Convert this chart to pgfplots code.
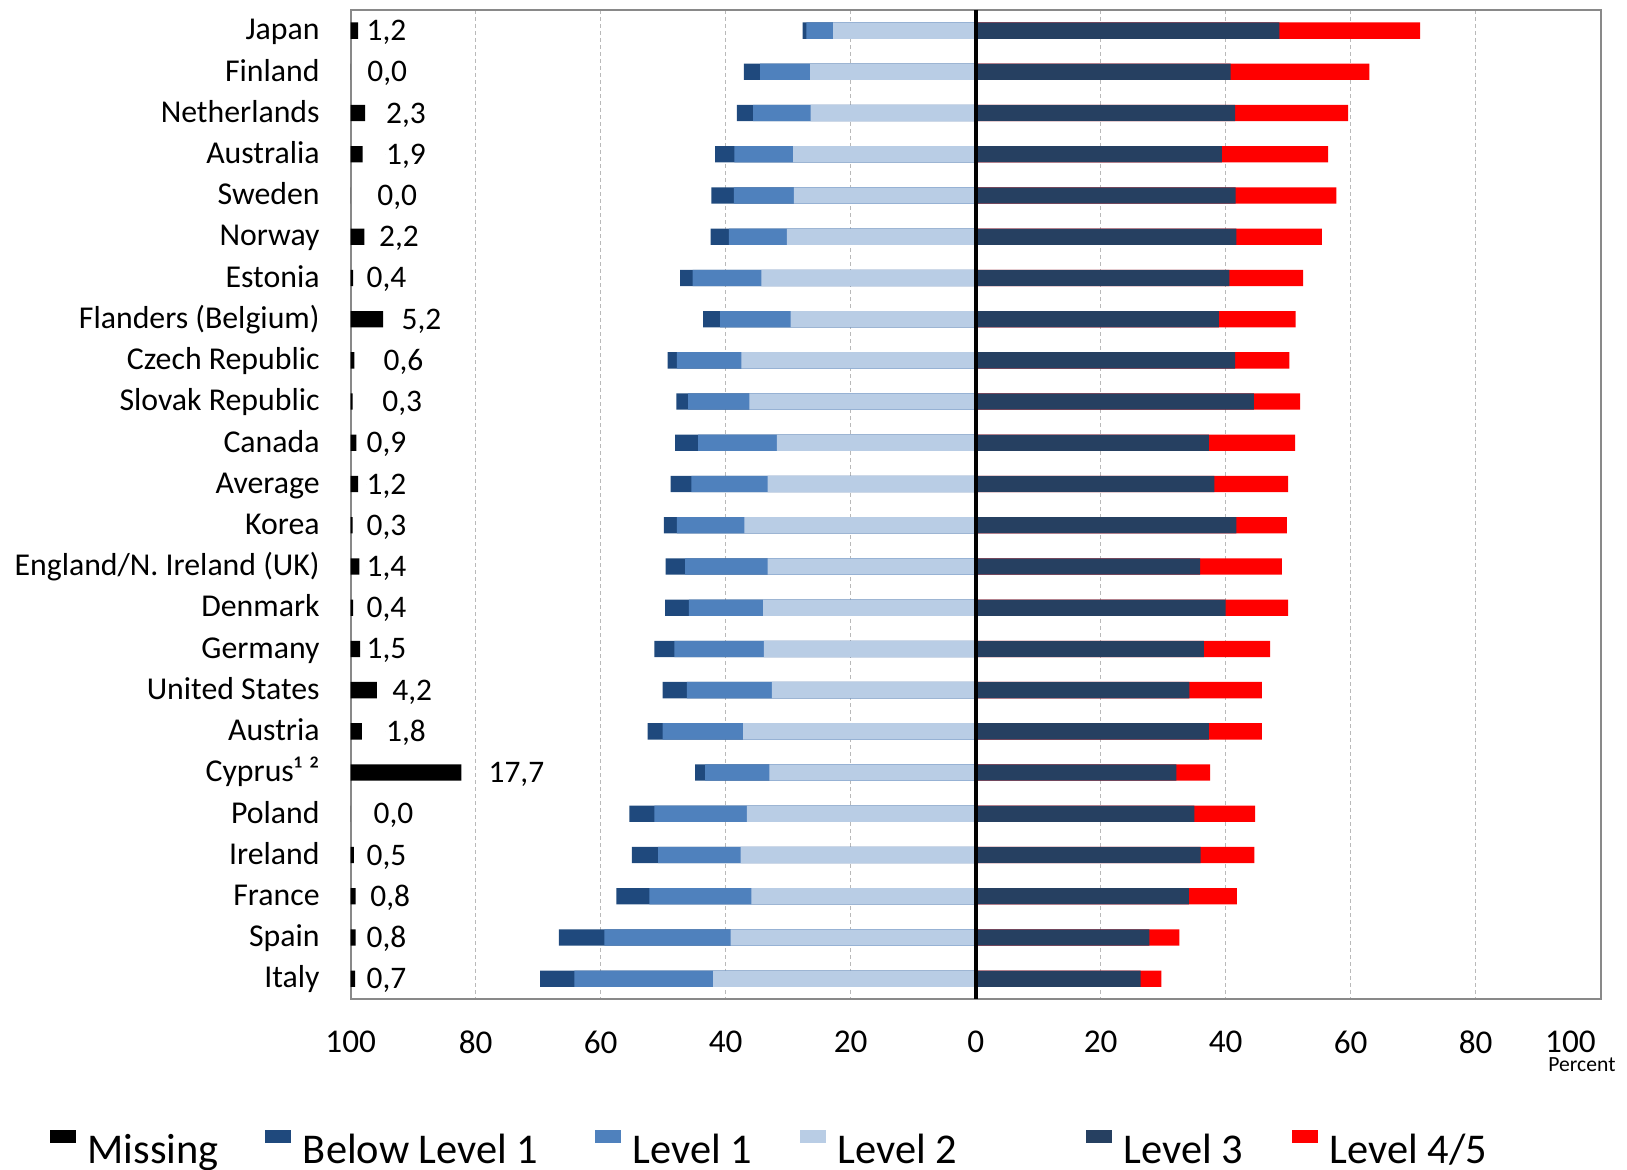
\documentclass[border=0pt]{standalone}
\usepackage{pgfplots}
\pgfplotsset{compat=1.18}
\usepackage{pgfplotstable}
\usepackage{fontspec}
\setmainfont{Carlito}

\definecolor{missc}{RGB}{0,0,0}
\definecolor{belowc}{RGB}{31,73,125}
\definecolor{lev1c}{RGB}{79,129,189}
\definecolor{lev2c}{RGB}{185,205,229}
\definecolor{lev3c}{RGB}{38,64,97}
\definecolor{lev45c}{RGB}{255,0,0}
\definecolor{framec}{RGB}{137,137,137}
\definecolor{gridc}{RGB}{185,185,185}

% row, missing, label position (0 = left edge of the plot, 200 = right edge),
% then the shares below level 1 ... level 4/5, in percent
\pgfplotstableread{
row miss lab  bl  l1   l2   l3   l45
1   1.2  2.5  0.6 4.3  22.8 48.6 22.5
2   0.0  2.6  2.6 8.0  26.5 40.8 22.2
3   2.3  5.6  2.6 9.2  26.4 41.5 18.1
4   1.9  5.6  3.1 9.4  29.2 39.4 17.0
5   0.0  4.2  3.6 9.6  29.1 41.6 16.1
6   2.2  4.5  2.9 9.3  30.2 41.7 13.7
7   0.4  2.5  2.0 11.0 34.3 40.6 11.8
8   5.2  8.1  2.7 11.3 29.6 38.9 12.3
9   0.6  5.2  1.5 10.3 37.5 41.5 8.7
10  0.3  5.0  1.9 9.8  36.2 44.5 7.4
11  0.9  2.5  3.7 12.6 31.8 37.3 13.8
12  1.2  2.5  3.3 12.2 33.3 38.2 11.8
13  0.3  2.5  2.1 10.8 37.0 41.7 8.1
14  1.4  2.5  3.1 13.2 33.3 35.9 13.1
15  0.4  2.5  3.8 11.9 34.0 40.0 10.0
16  1.5  2.5  3.2 14.3 33.9 36.5 10.6
17  4.2  6.6  3.9 13.6 32.6 34.2 11.6
18  1.8  5.6  2.4 12.9 37.2 37.3 8.5
19  17.7 22.0 1.6 10.3 33.0 32.1 5.4
20  0.0  3.6  4.0 14.8 36.6 35.0 9.7
21  0.5  2.5  4.2 13.2 37.6 36.0 8.6
22  0.8  3.1  5.3 16.3 35.9 34.1 7.7
23  0.8  2.5  7.3 20.2 39.2 27.8 4.8
24  0.7  2.5  5.5 22.2 42.0 26.4 3.3
}\pisa

\pgfplotsset{
  seg/.style={xbar, bar width=8.15pt, bar shift=0pt, draw=none, forget plot},
}

\begin{document}
\begin{tikzpicture}
\useasboundingbox (-175.35pt,-85.35pt) rectangle (638.15pt,499.65pt);

\begin{axis}[
    at={(0,0)}, anchor=south west,
    width=625pt, height=494.65pt, scale only axis,
    xmin=-100, xmax=100, ymin=0.5, ymax=24.5, y dir=reverse,
    clip=false,
    xtick={-100,-80,...,100},
    xticklabels={100,80,60,40,20,0,20,40,60,80,\makebox[0pt][r]{100\hspace{2.5pt}}},
    ytick={1,...,24},
    yticklabels={Japan,Finland,Netherlands,Australia,Sweden,Norway,Estonia,
      Flanders (Belgium),Czech Republic,Slovak Republic,Canada,Average,Korea,
      England/N. Ireland (UK),Denmark,Germany,United States,Austria,Cyprus¹ ²,
      Poland,Ireland,France,Spain,Italy},
    major tick length=0pt,
    xmajorgrids,
    grid style={gridc, line width=0.6pt, dash pattern=on 2pt off 1.5pt},
    axis line style={framec, line width=1pt},
    xticklabel style={font=\fontsize{16.6}{19}\selectfont, inner sep=0pt,
      anchor=north, yshift=-15.6pt},
    yticklabel style={font=\fontsize{15.9}{18}\selectfont, inner sep=0pt,
      anchor=base east, xshift=-15.35pt, yshift=-4.6pt},
    legend columns=6,
    legend image code/.code={
      \fill[#1] (0pt,10pt) rectangle (13pt,16.65pt);
      \path (0pt,0pt) (19pt,0pt);
    },
    legend style={at={(axis description cs:-0.2408,-0.1321)}, anchor=north west,
      draw=none, fill=none, inner sep=0pt, outer sep=0pt,
      column sep=0pt, row sep=0pt,
      cells={anchor=base west},
      nodes={inner sep=0pt, outer sep=0pt, font=\fontsize{21.2}{25}\selectfont}},
  ]
  \addlegendimage{fill=missc, draw=none}
  \addlegendentry{\makebox[88.65pt][l]{Missing}}
  \addlegendimage{fill=belowc, draw=none}
  \addlegendentry{\makebox[145.85pt][l]{Below Level 1}}
  \addlegendimage{fill=lev1c, draw=none}
  \addlegendentry{\makebox[83.65pt][l]{Level 1}}
  \addlegendimage{fill=lev2c, draw=none}
  \addlegendentry{\makebox[124pt][l]{Level 2}}
  \addlegendimage{fill=lev3c, draw=none}
  \addlegendentry{\makebox[84pt][l]{Level 3}}
  \addlegendimage{fill=lev45c, draw=none}
  \addlegendentry{Level 4/5}

  % left side: longest first, the shorter ones on top
  \addplot[seg, fill=belowc] table[x expr=-(\thisrow{l2}+\thisrow{l1}+\thisrow{bl}), y=row] {\pisa};
  \addplot[seg, fill=lev1c] table[x expr=-(\thisrow{l2}+\thisrow{l1}), y=row] {\pisa};
  \addplot[seg, fill=lev2c] table[x expr=-\thisrow{l2}, y=row] {\pisa};
  % right side
  \addplot[seg, fill=lev45c] table[x expr=\thisrow{l3}+\thisrow{l45}, y=row] {\pisa};
  \addplot[seg, fill=lev3c] table[x=l3, y=row] {\pisa};

  \draw[black, line width=2pt] (axis cs:0,0.5) -- (axis cs:0,24.5);
  \node[font=\fontsize{10.8}{12}\selectfont] at (axis description cs:0.985,-0.0664) {Percent};
\end{axis}

% missing answers, drawn from the left edge of the plot
\begin{axis}[
    at={(0,0)}, anchor=south west,
    width=625pt, height=494.65pt, scale only axis,
    xmin=0, xmax=200, ymin=0.5, ymax=24.5, y dir=reverse,
    hide axis, clip=false,
  ]
  \addplot[seg, fill=missc] table[x=miss, y=row] {\pisa};
  \addplot[only marks, mark=*, mark size=0pt, mark options={draw=none, fill=none},
    point meta=explicit,
    nodes near coords={\pgfmathprintnumber[fixed, fixed zerofill, precision=1,
      use comma, assume math mode=true]{\pgfplotspointmeta}},
    nodes near coords style={anchor=base west, inner sep=0pt, yshift=-5pt,
      font=\fontsize{15.7}{18}\selectfont}]
    table[x=lab, y=row, meta=miss] {\pisa};
\end{axis}
\end{tikzpicture}
\end{document}
